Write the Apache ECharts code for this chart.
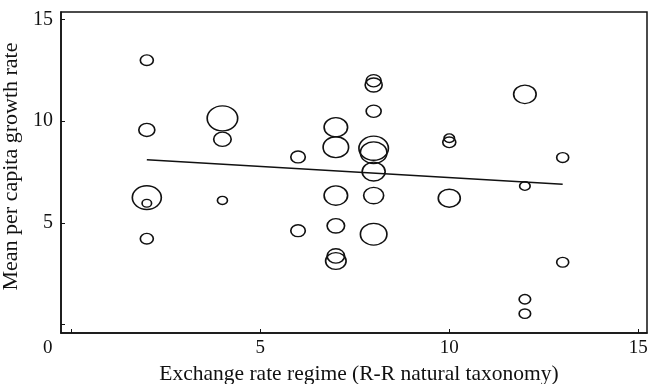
<!DOCTYPE html>
<html>
<head>
<meta charset="utf-8">
<script src="https://cdn.jsdelivr.net/npm/echarts@6/dist/echarts.min.js"></script>
<style>
html,body{margin:0;padding:0;background:#fff;}
#chart{width:648px;height:384px;}
</style>
</head>
<body>
<div id="chart"></div>
<script>
// Exchange rate regime (x), mean per capita growth rate (y), bubble weight (relative magnitude)
const regime = [2, 2, 2, 2, 2, 4, 4, 4, 6, 6, 7, 7, 7, 7, 7, 7, 8, 8, 8, 8, 8, 8, 8, 8, 10, 10, 10, 12, 12, 12, 12, 13, 13];
const growth = [13.0, 9.57, 6.24, 5.96, 4.22, 10.14, 9.11, 6.1, 8.24, 4.61, 9.7, 8.72, 6.34, 4.85, 3.37, 3.12, 11.99, 11.78, 10.49, 8.67, 8.45, 7.52, 6.34, 4.44, 9.16, 8.96, 6.21, 11.32, 6.81, 1.24, 0.53, 8.21, 3.06];
const weight = [1.3, 1.6, 2.9, 0.95, 1.3, 3.05, 1.75, 1.0, 1.45, 1.45, 2.35, 2.55, 2.35, 1.75, 1.75, 2.05, 1.5, 1.7, 1.5, 2.95, 2.65, 2.3, 2.0, 2.65, 1.05, 1.3, 2.2, 2.25, 1.05, 1.15, 1.15, 1.2, 1.2];
// Fitted line endpoints
const fitX = [2, 13];
const fitY = [8.1, 6.9];
const tickValues = [0, 5, 10, 15];
const labelValues = [5, 10, 15];
const originLabel = '0';
const xTitle = 'Exchange rate regime (R-R natural taxonomy)';
const yTitle = 'Mean per capita growth rate';

const FONT = '"Liberation Serif", "Times New Roman", serif';
const INK = '#111';

const bubbles = regime.map((x, i) => [x, growth[i], weight[i]]);
const fitLine = fitX.map((x, i) => [x, fitY[i]]);

const chart = echarts.init(document.getElementById('chart'), null, {renderer: 'canvas'});
chart.setOption({
  animation: false,
  backgroundColor: '#fff',
  grid: {
    left: 61, right: 1, top: 12, bottom: 51,
    containLabel: false, outerBoundsMode: 'none',
    show: true, borderColor: INK, borderWidth: 1.5, backgroundColor: 'transparent'
  },
  xAxis: {
    type: 'value', min: -0.27, max: 15.23,
    name: xTitle, nameLocation: 'middle', nameGap: 27,
    nameTextStyle: {fontFamily: FONT, fontSize: 21.5, color: INK, padding: [0, 0, 0, 10]},
    axisLine: {show: true, onZero: false, lineStyle: {color: INK, width: 1.5}},
    axisTick: {show: true, inside: true, length: 4, customValues: tickValues, lineStyle: {color: INK, width: 1}},
    axisLabel: {show: true, margin: 6, customValues: labelValues, fontFamily: FONT, fontSize: 19, color: INK},
    splitLine: {show: false}
  },
  yAxis: {
    type: 'value', min: -0.42, max: 15.37,
    name: yTitle, nameLocation: 'middle', nameGap: 26, nameRotate: 90,
    nameTextStyle: {fontFamily: FONT, fontSize: 22, color: INK, padding: [0, 0, 0, 12]},
    axisLine: {show: true, onZero: false, lineStyle: {color: INK, width: 1.5}},
    axisTick: {show: true, inside: true, length: 4, customValues: tickValues, lineStyle: {color: INK, width: 1}},
    axisLabel: {show: true, margin: 8, customValues: labelValues, fontFamily: FONT, fontSize: 20, color: INK},
    splitLine: {show: false}
  },
  graphic: [{
    type: 'text', left: 43, top: 339,
    style: {text: originLabel, font: '19px ' + FONT, fill: INK}
  }],
  series: [{
    type: 'scatter',
    data: bubbles,
    symbol: 'circle',
    symbolSize: v => [v[2] * 10, v[2] * 10 / 1.22],
    itemStyle: {color: 'rgba(0,0,0,0)', borderColor: INK, borderWidth: 1.5, opacity: 1},
    emphasis: {disabled: true},
    z: 3
  }, {
    type: 'line',
    data: fitLine,
    symbol: 'none',
    lineStyle: {color: INK, width: 1.5},
    emphasis: {disabled: true},
    z: 2
  }]
});
</script>
</body>
</html>
